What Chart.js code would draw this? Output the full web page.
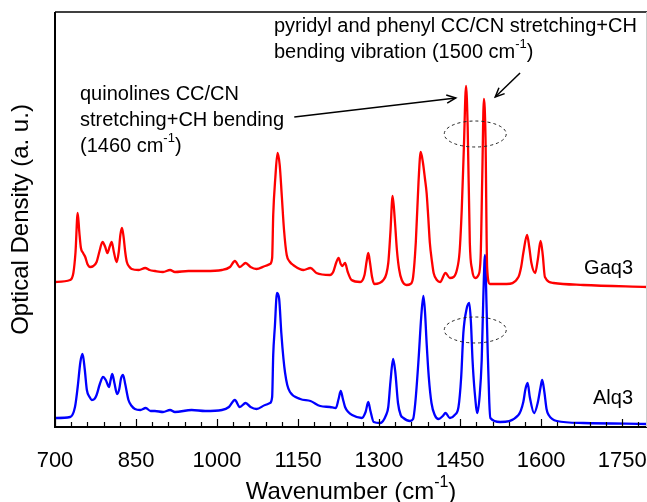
<!DOCTYPE html>
<html>
<head>
<meta charset="utf-8">
<script src="https://cdn.jsdelivr.net/npm/chart.js@4.4.1/dist/chart.umd.min.js"></script>
<style>
  body { margin: 0; background: #fff; }
  canvas { display: block; }
</style>
</head>
<body>
<canvas id="myChart" width="647" height="502"></canvas>
<script>
// spectra (wavenumber in cm-1, optical density in a.u.)
var gaqWave = [700, 728, 734, 738, 742, 745, 748, 752, 756, 760, 765, 771, 777, 782, 788, 793, 797, 801, 805, 809,
  814, 818, 821, 824, 827, 830, 833, 838, 842, 855, 867, 875, 885, 900, 913, 922, 947, 978, 1009, 1024,
  1033, 1042, 1053, 1062, 1073, 1089, 1098, 1102, 1104, 1108, 1112, 1116, 1120, 1124, 1129, 1135, 1141, 1160, 1173, 1184,
  1209, 1215, 1221, 1225, 1229, 1232, 1237, 1242, 1249, 1265, 1273, 1277, 1280, 1283, 1287, 1291, 1308, 1317, 1321, 1325,
  1329, 1333, 1337, 1342, 1351, 1358, 1363, 1368, 1373, 1377, 1381, 1385, 1388, 1391, 1394, 1398, 1401, 1407, 1413, 1423,
  1431, 1438, 1444, 1449, 1453, 1457, 1461, 1464, 1468, 1472, 1478, 1484, 1488, 1491, 1494, 1497, 1500, 1505, 1536, 1558,
  1563, 1567, 1574, 1578, 1582, 1589, 1594, 1599, 1603, 1607, 1623, 1678, 1796];
var gaqOD = [1.45, 1.47, 1.54, 1.75, 2.14, 1.95, 1.79, 1.74, 1.70, 1.63, 1.60, 1.61, 1.65, 1.75, 1.85, 1.80, 1.74, 1.80, 1.85, 1.75,
  1.65, 1.75, 1.92, 1.99, 1.90, 1.75, 1.65, 1.60, 1.58, 1.57, 1.59, 1.57, 1.56, 1.55, 1.57, 1.55, 1.56, 1.56, 1.57, 1.60,
  1.66, 1.60, 1.64, 1.60, 1.58, 1.61, 1.63, 1.69, 2.12, 2.50, 2.74, 2.62, 2.30, 1.97, 1.72, 1.65, 1.62, 1.57, 1.59, 1.54,
  1.52, 1.55, 1.65, 1.69, 1.63, 1.61, 1.64, 1.55, 1.47, 1.45, 1.52, 1.66, 1.74, 1.65, 1.50, 1.43, 1.47, 1.64, 1.95, 2.31,
  2.08, 1.77, 1.58, 1.47, 1.42, 1.43, 1.50, 1.85, 2.45, 2.75, 2.65, 2.48, 2.34, 2.10, 1.84, 1.65, 1.54, 1.47, 1.45, 1.54,
  1.49, 1.50, 1.57, 1.75, 2.17, 2.80, 3.41, 3.00, 1.84, 1.58, 1.49, 1.52, 1.70, 2.50, 3.28, 2.90, 1.60, 1.43, 1.43, 1.50,
  1.60, 1.74, 1.92, 1.80, 1.64, 1.54, 1.68, 1.86, 1.72, 1.50, 1.44, 1.42, 1.40];

var alqWave = [700, 728, 737, 742, 747, 751, 755, 759, 764, 768, 773, 777, 783, 789, 794, 800, 803, 806, 810, 815,
  819, 822, 826, 830, 836, 842, 848, 858, 868, 877, 885, 900, 913, 922, 953, 978, 1009, 1022, 1033, 1042,
  1053, 1062, 1073, 1089, 1098, 1102, 1104, 1107, 1111, 1115, 1119, 1123, 1126, 1130, 1135, 1154, 1173, 1191, 1209, 1220,
  1225, 1229, 1233, 1237, 1243, 1250, 1268, 1275, 1280, 1284, 1290, 1302, 1313, 1317, 1321, 1326, 1330, 1335, 1340, 1345,
  1357, 1363, 1367, 1373, 1378, 1382, 1385, 1388, 1392, 1397, 1403, 1410, 1418, 1423, 1431, 1440, 1447, 1452, 1456, 1462,
  1467, 1470, 1473, 1477, 1482, 1486, 1490, 1493, 1496, 1499, 1501, 1504, 1506, 1524, 1558, 1567, 1571, 1575, 1579, 1587,
  1594, 1599, 1602, 1606, 1610, 1614, 1629, 1678, 1796];
var alqOD = [0.09, 0.10, 0.20, 0.40, 0.65, 0.73, 0.58, 0.37, 0.30, 0.27, 0.28, 0.32, 0.43, 0.50, 0.47, 0.40, 0.47, 0.53, 0.44, 0.33,
  0.38, 0.48, 0.52, 0.43, 0.27, 0.21, 0.18, 0.17, 0.19, 0.16, 0.16, 0.15, 0.17, 0.15, 0.17, 0.16, 0.17, 0.20, 0.27, 0.20,
  0.24, 0.20, 0.18, 0.22, 0.24, 0.30, 0.72, 1.00, 1.34, 1.28, 0.94, 0.68, 0.54, 0.42, 0.35, 0.28, 0.26, 0.21, 0.20, 0.19,
  0.28, 0.36, 0.28, 0.20, 0.15, 0.12, 0.09, 0.15, 0.25, 0.16, 0.05, 0.04, 0.12, 0.20, 0.45, 0.68, 0.55, 0.24, 0.12, 0.09,
  0.06, 0.08, 0.24, 0.67, 1.10, 1.31, 1.15, 0.84, 0.50, 0.24, 0.12, 0.08, 0.11, 0.14, 0.09, 0.12, 0.20, 0.50, 0.94, 1.18,
  1.24, 1.05, 0.67, 0.35, 0.14, 0.30, 0.67, 1.30, 1.72, 1.20, 0.77, 0.25, 0.09, 0.05, 0.12, 0.25, 0.38, 0.44, 0.30, 0.14,
  0.25, 0.40, 0.47, 0.35, 0.18, 0.12, 0.06, 0.04, 0.03];

var xTicks = [700, 850, 1000, 1150, 1300, 1450, 1600, 1750];
var names = ["Gaq3", "Alq3"];

var FONT = '"Liberation Sans", Arial, sans-serif';

function pts(xs, ys) {
  return xs.map(function (x, i) { return { x: x, y: ys[i] }; });
}

// text with superscript pieces: parts = [[text, isSup], ...]
function richText(ctx, parts, x, y, size, align) {
  var sup = Math.round(size * 0.66);
  var w = 0;
  parts.forEach(function (p) {
    ctx.font = (p[1] ? sup : size) + 'px ' + FONT;
    w += ctx.measureText(p[0]).width;
  });
  var cx = align === 'center' ? x - w / 2 : (align === 'right' ? x - w : x);
  ctx.textAlign = 'left';
  ctx.textBaseline = 'alphabetic';
  parts.forEach(function (p) {
    ctx.font = (p[1] ? sup : size) + 'px ' + FONT;
    ctx.fillText(p[0], cx, p[1] ? y - size * 0.5 : y);
    cx += ctx.measureText(p[0]).width;
  });
}

function arrow(ctx, x1, y1, x2, y2) {
  ctx.beginPath();
  ctx.moveTo(x1, y1);
  ctx.lineTo(x2, y2);
  ctx.stroke();
  var a = Math.atan2(y2 - y1, x2 - x1), L = 10, s = 0.42;
  ctx.beginPath();
  ctx.moveTo(x2 - L * Math.cos(a - s), y2 - L * Math.sin(a - s));
  ctx.lineTo(x2, y2);
  ctx.lineTo(x2 - L * Math.cos(a + s), y2 - L * Math.sin(a + s));
  ctx.stroke();
}

var decor = {
  id: 'decor',
  afterDraw: function (chart) {
    var ctx = chart.ctx, a = chart.chartArea;
    var xs = chart.scales.x, ys = chart.scales.y;
    ctx.save();
    // frame
    ctx.strokeStyle = '#000';
    ctx.lineWidth = 1.5;
    ctx.beginPath();
    ctx.moveTo(a.left, a.top);
    ctx.lineTo(a.right, a.top);
    ctx.stroke();
    ctx.lineWidth = 2;
    ctx.beginPath();
    ctx.moveTo(a.left, a.top);
    ctx.lineTo(a.left, a.bottom);
    ctx.lineTo(a.right, a.bottom);
    ctx.stroke();
    ctx.strokeStyle = '#ccc';
    ctx.lineWidth = 1;
    ctx.beginPath();
    ctx.moveTo(646.5, a.top);
    ctx.lineTo(646.5, a.bottom);
    ctx.stroke();

    // inward ticks
    ctx.strokeStyle = '#000';
    ctx.lineWidth = 1.2;
    for (var v = 700; v <= 1796; v += 30) {
      var px = Math.round(xs.getPixelForValue(v)) + 0.5;
      var len = xTicks.indexOf(v) >= 0 ? 8 : 5;
      ctx.beginPath();
      ctx.moveTo(px, a.bottom);
      ctx.lineTo(px, a.bottom - len);
      ctx.stroke();
    }

    // x title
    ctx.fillStyle = '#000';
    richText(ctx, [['Wavenumber (cm', false], ['-1', true], [')', false]], (a.left + a.right) / 2, 499, 24, 'center');

    // series labels
    richText(ctx, [[names[0], false]], 633, 274, 20, 'right');
    richText(ctx, [[names[1], false]], 633, 404, 20, 'right');

    // annotations
    richText(ctx, [['pyridyl and phenyl CC/CN stretching+CH', false]], 274, 32, 20, 'left');
    richText(ctx, [['bending vibration (1500 cm', false], ['-1', true], [')', false]], 274, 58, 20, 'left');
    richText(ctx, [['quinolines CC/CN', false]], 80, 100, 20, 'left');
    richText(ctx, [['stretching+CH bending', false]], 80, 126, 20, 'left');
    richText(ctx, [['(1460 cm', false], ['-1', true], [')', false]], 80, 152, 20, 'left');

    ctx.strokeStyle = '#000';
    ctx.lineWidth = 1.5;
    arrow(ctx, xs.getPixelForValue(1143), ys.getPixelForValue(3.10), xs.getPixelForValue(1442), ys.getPixelForValue(3.29));
    arrow(ctx, xs.getPixelForValue(1561), ys.getPixelForValue(3.54), xs.getPixelForValue(1515), ys.getPixelForValue(3.30));

    // dashed ellipses around the 1460 / 1500 pair
    ctx.lineWidth = 1;
    ctx.strokeStyle = '#222';
    ctx.setLineDash([3, 3]);
    [2.93, 0.97].forEach(function (yv) {
      ctx.beginPath();
      ctx.ellipse(xs.getPixelForValue(1478), ys.getPixelForValue(yv), 31, 13, 0, 0, Math.PI * 2);
      ctx.stroke();
    });
    ctx.restore();
  }
};

var ctx = document.getElementById("myChart").getContext('2d');
var myChart = new Chart(ctx, {
  type: 'line',
  data: {
    datasets: [{
      label: names[0],
      data: pts(gaqWave, gaqOD),
      borderColor: '#ff0000',
      borderWidth: 2.3,
      pointRadius: 0,
      cubicInterpolationMode: 'monotone'
    }, {
      label: names[1],
      data: pts(alqWave, alqOD),
      borderColor: '#0000ff',
      borderWidth: 2.3,
      pointRadius: 0,
      cubicInterpolationMode: 'monotone'
    }]
  },
  options: {
    responsive: false,
    animation: false,
    devicePixelRatio: 1,
    layout: { padding: { top: 12, right: 0, left: 0, bottom: 0 } },
    plugins: { legend: { display: false }, tooltip: { enabled: false } },
    scales: {
      x: {
        type: 'linear',
        min: 700,
        max: 1796,
        grid: { display: false },
        border: { display: false },
        afterBuildTicks: function (s) {
          s.ticks = xTicks.map(function (v) { return { value: v }; });
        },
        afterFit: function (s) {
          s.height = 75;
          s.paddingLeft = 0;
          s.paddingRight = 0;
        },
        ticks: {
          autoSkip: false,
          maxRotation: 0,
          padding: 13,
          color: '#000',
          font: { family: FONT, size: 22 },
          callback: function (v) { return String(v); }
        }
      },
      y: {
        min: 0,
        max: 4.15,
        grid: { display: false },
        border: { display: false },
        ticks: { display: false },
        afterFit: function (s) { s.width = 55; },
        title: {
          display: true,
          text: 'Optical Density (a. u.)',
          color: '#000',
          padding: { top: 7, bottom: 0 },
          font: { family: FONT, size: 24 }
        }
      }
    }
  },
  plugins: [decor]
});
</script>
</body>
</html>
